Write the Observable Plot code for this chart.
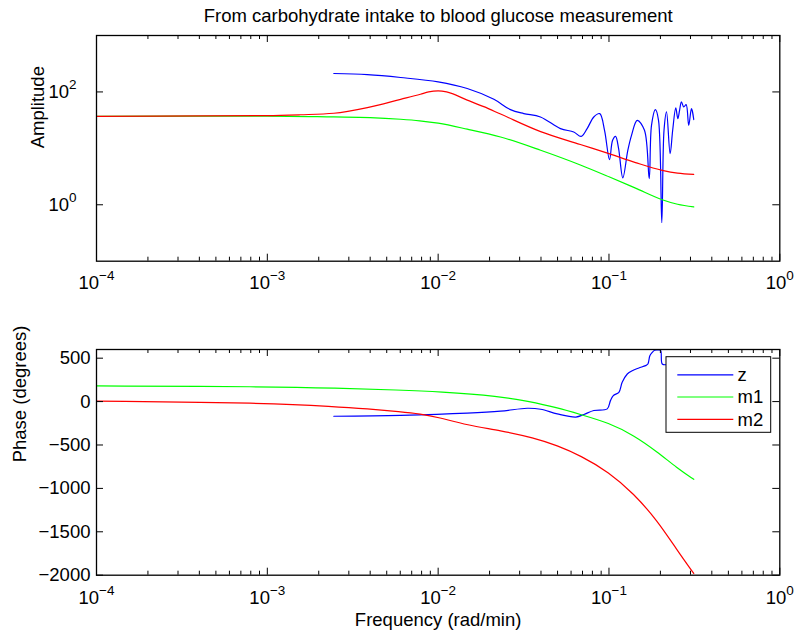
<!DOCTYPE html>
<html><head><meta charset="utf-8">
<script src="https://cdn.jsdelivr.net/npm/d3@7"></script>
<script src="https://cdn.jsdelivr.net/npm/@observablehq/plot@0.6"></script>
<style>
body{margin:0;background:#fff;}
#chart{position:relative;width:795px;height:632px;font-family:"Liberation Sans",Arial,Helvetica,sans-serif;}
#chart svg{position:absolute;left:0;overflow:visible;}
</style></head><body><div id="chart"></div>
<script>
// ---------- texts ----------
const titleText = "From carbohydrate intake to blood glucose measurement";
const xLabel = "Frequency (rad/min)";
const ampLabel = "Amplitude";
const phaseLabel = "Phase (degrees)";
const seriesNames = ["z", "m1", "m2"];
const seriesColors = ["#0000ff", "#00ff00", "#ff0000"];

// ---------- ticks ----------
const xMajorTicks = [1e-4, 1e-3, 1e-2, 1e-1, 1];
const xTickLabels = ["10^-4", "10^-3", "10^-2", "10^-1", "10^0"];
const ampTicks = [1, 100];
const ampTickLabels = ["10^0", "10^2"];
const phaseTicks = [-2000, -1500, -1000, -500, 0, 500];
const phaseTickLabels = ["\u22122000", "\u22121500", "\u22121000", "\u2212500", "0", "500"];

// ---------- amplitude data ----------
const zAmpF = [0.00245, 0.00385, 0.00603, 0.0100, 0.0148, 0.0212, 0.0265, 0.0317, 0.0397, 0.052, 0.0622, 0.0687, 0.0745, 0.0815, 0.0883, 0.0942, 0.1007, 0.105, 0.1093, 0.1138, 0.1205, 0.1289, 0.1355, 0.1463, 0.1614, 0.172, 0.1774, 0.187, 0.195, 0.2038, 0.21, 0.2172, 0.228, 0.236, 0.246, 0.253, 0.259, 0.2655, 0.274, 0.283, 0.293, 0.304, 0.3135];
const zAmp  = [212, 202, 180, 151, 115, 74, 48.5, 41.3, 36, 22.4, 19.5, 16.3, 22.4, 36, 41.3, 20.9, 6.3, 13.9, 16.3, 10, 3.0, 9.2, 17, 31.4, 20.9, 2.9, 25.6, 48.6, 31.4, 0.48, 20.9, 44.2, 8.05, 20.9, 52, 33.7, 47.3, 66.4, 54.2, 59.7, 25.6, 50.7, 32.4];

const m1AmpF = [1e-4, 1e-3, 0.00245, 0.0040, 0.00603, 0.0078, 0.0100, 0.0148, 0.0232, 0.0398, 0.068, 0.100, 0.143, 0.205, 0.252, 0.3135];
const m1Amp  = [37, 37.3, 36, 35.1, 32.8, 30.7, 27.9, 21.9, 15.9, 9.25, 5.07, 3.13, 1.97, 1.23, 1.02, 0.92];

const m2AmpF = [1e-4, 1e-3, 0.00156, 0.00245, 0.00385, 0.00603, 0.00788, 0.0088, 0.0100, 0.0112, 0.0148, 0.0185, 0.0232, 0.0398, 0.068, 0.100, 0.143, 0.205, 0.252, 0.3135];
const m2Amp  = [37, 38, 39.4, 41.9, 52.8, 74, 91, 100, 104, 100, 71.7, 54.8, 40.5, 19.8, 11.7, 8.05, 5.6, 4.08, 3.64, 3.47];

// ---------- phase data ----------
const zPhF = [0.00245, 0.00603, 0.0148, 0.0232, 0.0332, 0.0398, 0.0498, 0.064, 0.0713, 0.0815, 0.0977, 0.102, 0.106, 0.1143, 0.1195, 0.128, 0.1368, 0.1496, 0.1637, 0.169, 0.1735, 0.179, 0.185, 0.1935, 0.2005, 0.205, 0.2173, 0.24, 0.27, 0.3135];
const zPh  = [-169, -159, -134, -111, -77, -88, -142, -178, -149, -103, -84, 11, 69, 107, 222, 318, 356, 387, 414, 433, 528, 566, 592, 595, 590, 433, 425, 450, 470, 460];

const m1PhF = [1e-4, 1e-3, 0.00245, 0.00603, 0.0100, 0.0232, 0.0332, 0.0498, 0.068, 0.100, 0.1396, 0.1914, 0.2506, 0.3135];
const m1Ph  = [180, 172, 157, 132, 115, 60, 5, -70, -148, -245, -388, -578, -765, -896];

const m2PhF = [1e-4, 1e-3, 0.00245, 0.00385, 0.00603, 0.00788, 0.0100, 0.0148, 0.0232, 0.0363, 0.0498, 0.068, 0.100, 0.1396, 0.1914, 0.2506, 0.3135];
const m2Ph  = [5, -15, -57, -84, -117, -142, -180, -272, -333, -417, -506, -621, -812, -1061, -1367, -1712, -1980];

// ---------- helpers ----------
const rows = (F, V) => F.map((f, i) => ({f, v: V[i]}));
const FONT = 18.5, SUP = 13.5;
const xAllTicks = d3.scaleLog().domain([1e-4, 1]).ticks();
const xMinorTicks = xAllTicks.filter(t => !xMajorTicks.some(m => Math.abs(m - t) / m < 1e-6));
const MAJ = 7, MIN = 4;

function frameTicks(innerH, innerW, yTicks) {
  const s = {stroke: "black", strokeWidth: 1};
  return [
    Plot.ruleX(xMajorTicks, {x: d => d, insetTop: innerH - MAJ, ...s}),
    Plot.ruleX(xMajorTicks, {x: d => d, insetBottom: innerH - MAJ, ...s}),
    Plot.ruleX(xMinorTicks, {x: d => d, insetTop: innerH - MIN, ...s}),
    Plot.ruleX(xMinorTicks, {x: d => d, insetBottom: innerH - MIN, ...s}),
    Plot.ruleY(yTicks, {y: d => d, insetRight: innerW - MAJ, ...s}),
    Plot.ruleY(yTicks, {y: d => d, insetLeft: innerW - MAJ, ...s})
  ];
}

function superscripts(svg) {
  d3.select(svg).selectAll("text").each(function () {
    const t = this.textContent;
    const m = /^10\^(.+)$/.exec(t);
    if (!m) return;
    this.textContent = "10";
    d3.select(this).append("tspan")
      .attr("dy", -8.5)
      .attr("font-size", SUP)
      .text(m[1].replace("-", "\u2212"));
  });
}

const W = 795;
const chart = document.getElementById("chart");
const smoothOpts = {x: "f", y: "v", curve: "monotone-x", strokeWidth: 1.2, clip: true};
const basisOpts = {x: "f", y: "v", curve: "basis", strokeWidth: 1.2, clip: true};
const rawOpts = {x: "f", y: "v", curve: "catmull-rom", strokeWidth: 1.2, clip: true};
const textStyle = {fontSize: FONT, fill: "black"};

// ---------- top panel (amplitude) ----------
const topH = 300, topMT = 35, topMB = 39.3, ML = 96, MR = 15.7;
const topInnerH = topH - topMT - topMB, innerW = W - ML - MR;

const ampSvg = Plot.plot({
  width: W, height: topH,
  marginTop: topMT, marginBottom: topMB, marginLeft: ML, marginRight: MR,
  style: {fontFamily: "'Liberation Sans', Arial, sans-serif", fontSize: FONT + "px", color: "black", background: "transparent"},
  x: {type: "log", domain: [1e-4, 1], axis: null},
  y: {type: "log", domain: [0.1, 1000], axis: null},
  marks: [
    Plot.line(rows(zAmpF, zAmp), {...rawOpts, stroke: seriesColors[0]}),
    Plot.line(rows(m1AmpF, m1Amp), {...smoothOpts, stroke: seriesColors[1]}),
    Plot.line(rows(m2AmpF, m2Amp), {...smoothOpts, stroke: seriesColors[2]}),
    ...frameTicks(topInnerH, innerW, ampTicks),
    Plot.frame({stroke: "black", strokeWidth: 1.3}),
    Plot.text(xMajorTicks, {x: d => d, text: (d, i) => xTickLabels[i], frameAnchor: "bottom", dy: 27.6, lineAnchor: "bottom", ...textStyle}),
    Plot.text(ampTicks, {y: d => d, text: (d, i) => ampTickLabels[i], frameAnchor: "left", textAnchor: "end", dx: -20, lineAnchor: "middle", ...textStyle}),
    Plot.text([ampLabel], {frameAnchor: "left", dx: 37.5 - ML, rotate: -90, lineAnchor: "middle", ...textStyle}),
    Plot.text([titleText], {frameAnchor: "top", dy: 21.5 - topMT, lineAnchor: "bottom", ...textStyle})
  ]
});
superscripts(ampSvg);
ampSvg.style.top = "0px";
chart.appendChild(ampSvg);

// ---------- bottom panel (phase) ----------
const botTop = 300, botH = 332, botMT = 49, botMB = 57.3;
const botInnerH = botH - botMT - botMB;

const phaseSvg = Plot.plot({
  width: W, height: botH,
  marginTop: botMT, marginBottom: botMB, marginLeft: ML, marginRight: MR,
  style: {fontFamily: "'Liberation Sans', Arial, sans-serif", fontSize: FONT + "px", color: "black", background: "transparent"},
  x: {type: "log", domain: [1e-4, 1], axis: null},
  y: {type: "linear", domain: [-2000, 600], axis: null},
  marks: [
    Plot.line(rows(zPhF, zPh), {...rawOpts, stroke: seriesColors[0]}),
    Plot.line(rows(m1PhF, m1Ph), {...basisOpts, stroke: seriesColors[1]}),
    Plot.line(rows(m2PhF, m2Ph), {...basisOpts, stroke: seriesColors[2]}),
    ...frameTicks(botInnerH, innerW, phaseTicks),
    Plot.frame({stroke: "black", strokeWidth: 1.3}),
    Plot.text(xMajorTicks, {x: d => d, text: (d, i) => xTickLabels[i], frameAnchor: "bottom", dy: 28.3, lineAnchor: "bottom", ...textStyle}),
    Plot.text(phaseTicks, {y: d => d, text: (d, i) => phaseTickLabels[i], frameAnchor: "left", textAnchor: "end", dx: -6, lineAnchor: "middle", ...textStyle}),
    Plot.text([phaseLabel], {frameAnchor: "left", dx: 19.7 - ML, rotate: -90, lineAnchor: "middle", ...textStyle}),
    Plot.text([xLabel], {frameAnchor: "bottom", dy: 625 - botTop - (botH - botMB), lineAnchor: "bottom", ...textStyle})
  ]
});
superscripts(phaseSvg);

// legend (inside phase panel, top-right)
{
  const g = d3.select(phaseSvg).append("g").attr("aria-label", "legend").attr("text-anchor", "start");
  const bx = 666, by = 356.7 - botTop, bw = 104.7, bh = 75.6;
  g.append("rect").attr("x", bx).attr("y", by).attr("width", bw).attr("height", bh)
    .attr("fill", "white").attr("stroke", "black").attr("stroke-width", 1);
  const rowY = [374.8, 397, 419.3].map(v => v - botTop);
  seriesNames.forEach((name, i) => {
    g.append("line").attr("x1", 677.3).attr("x2", 733.3).attr("y1", rowY[i]).attr("y2", rowY[i])
      .attr("stroke", seriesColors[i]).attr("stroke-width", 1.2);
    g.append("text").attr("x", 737.5).attr("y", rowY[i]).attr("dy", "0.35em")
      .attr("text-anchor", "start")
      .attr("font-size", FONT).attr("fill", "black").text(name);
  });
}
phaseSvg.style.top = botTop + "px";
chart.appendChild(phaseSvg);
</script>
</body></html>
